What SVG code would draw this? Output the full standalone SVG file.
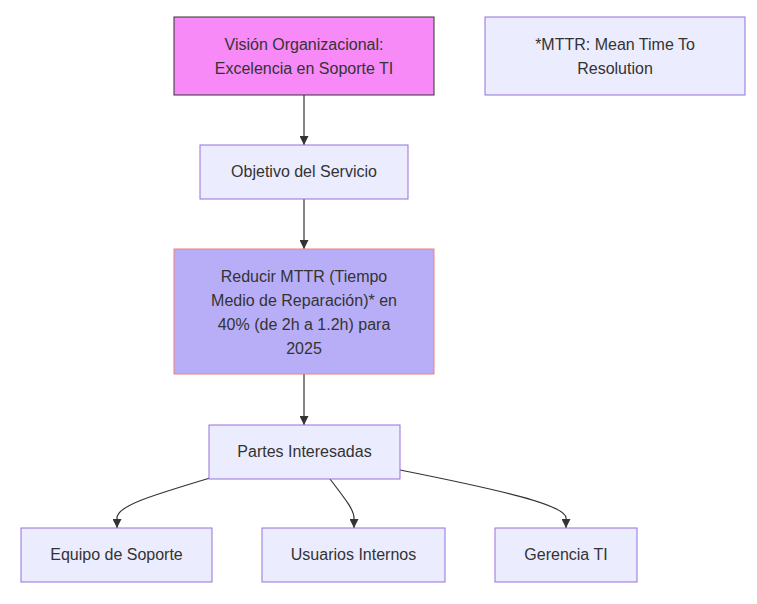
<svg xmlns="http://www.w3.org/2000/svg" width="757" height="604" viewBox="0 0 757 604">
<style>
.node rect{fill:#ECECFF;stroke:#9370DB;stroke-width:1}
.node text{font-family:"Trebuchet MS","Liberation Sans",Arial,sans-serif;font-size:16px;fill:#333333;text-anchor:middle}
.edges path{fill:none;stroke:#333333;stroke-width:1.2}
</style>
<defs>
<marker id="arrow" viewBox="0 0 10 10" refX="10" refY="5" markerWidth="9" markerHeight="9" markerUnits="userSpaceOnUse" orient="auto">
<path d="M0,0 L10,5 L0,10 z" fill="#333333"/>
</marker>
</defs>
<rect width="757" height="604" fill="#ffffff"/>
<g class="edges">
<path d="M304,95 L304,145" marker-end="url(#arrow)"/>
<path d="M304,199 L304,249" marker-end="url(#arrow)"/>
<path d="M304,374 L304,425" marker-end="url(#arrow)"/>
<path d="M210,478 C150,496 117,506 117,518 L117,528" marker-end="url(#arrow)"/>
<path d="M330,479 C346,500 354,510 354,518 L354,528" marker-end="url(#arrow)"/>
<path d="M400,470 C500,490 566,505 566,518 L566,528" marker-end="url(#arrow)"/>
</g>
<g id="vision" class="node">
<rect x="174" y="17" width="260" height="78" style="fill:#F78AF7;stroke:#333333"/>
<text x="304" y="50">Visión Organizacional:</text>
<text x="304" y="74">Excelencia en Soporte TI</text>
</g>
<g id="nota" class="node">
<rect x="485" y="17" width="260" height="78"/>
<text x="615" y="50">*MTTR: Mean Time To</text>
<text x="615" y="74">Resolution</text>
</g>
<g id="objetivo" class="node">
<rect x="200" y="145" width="208" height="54"/>
<text x="304" y="177">Objetivo del Servicio</text>
</g>
<g id="reducir" class="node">
<rect x="174" y="249" width="260" height="125" style="fill:#B8AEF7;stroke:#F08080"/>
<text x="304" y="282">Reducir MTTR (Tiempo</text>
<text x="304" y="306">Medio de Reparación)* en</text>
<text x="304" y="330">40% (de 2h a 1.2h) para</text>
<text x="304" y="354">2025</text>
</g>
<g id="partes" class="node">
<rect x="209" y="425" width="191" height="54"/>
<text x="304.5" y="457">Partes Interesadas</text>
</g>
<g id="equipo" class="node">
<rect x="21" y="528" width="191" height="54"/>
<text x="116.5" y="560">Equipo de Soporte</text>
</g>
<g id="usuarios" class="node">
<rect x="262" y="528" width="183" height="54"/>
<text x="353.5" y="560">Usuarios Internos</text>
</g>
<g id="gerencia" class="node">
<rect x="495" y="528" width="142" height="54"/>
<text x="566" y="560">Gerencia TI</text>
</g>
</svg>
